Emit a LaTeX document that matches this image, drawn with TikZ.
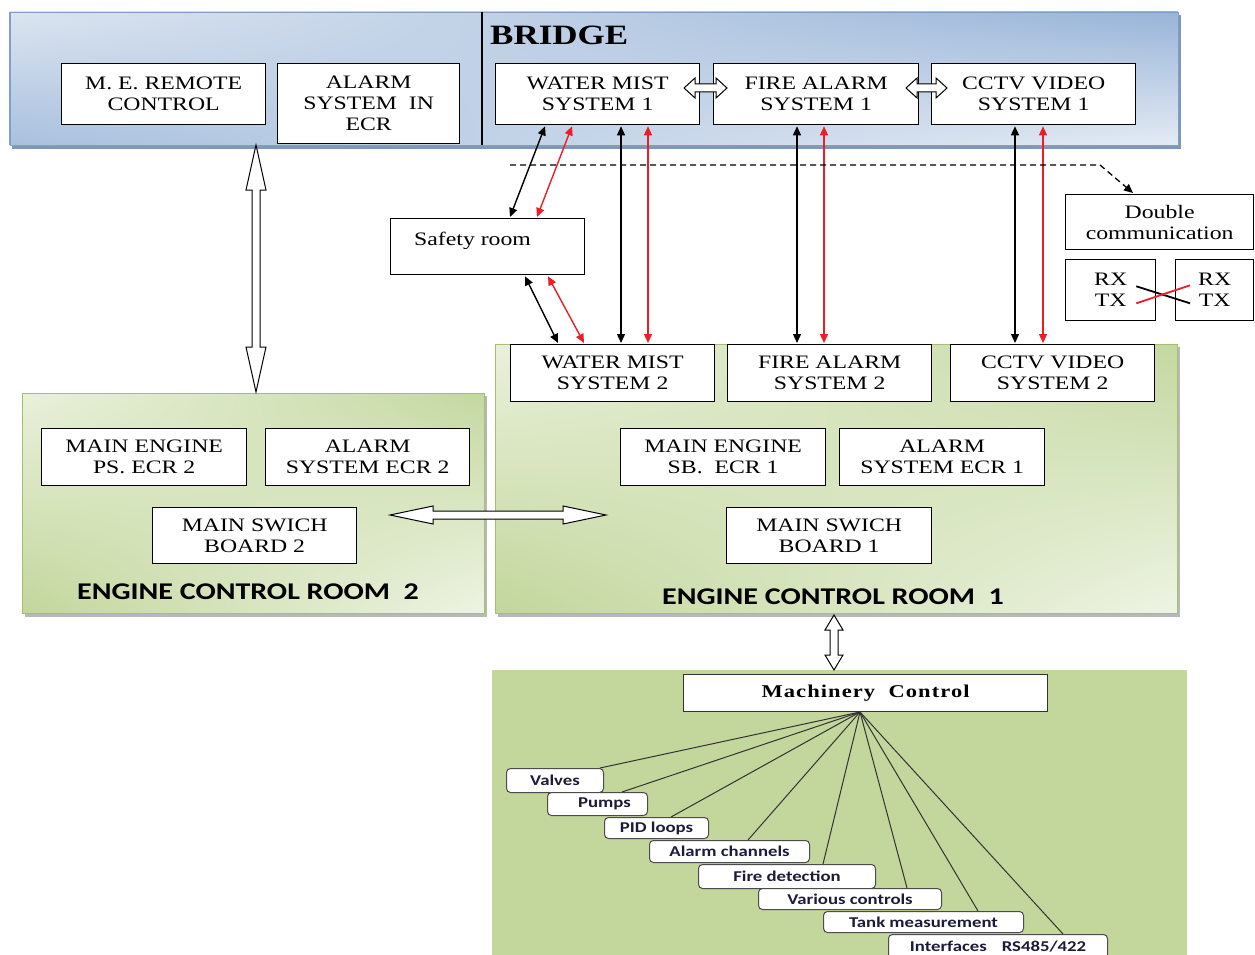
\documentclass[tikz,border=0pt]{standalone}
\usepackage{fontspec}
\setmainfont[FakeStretch=1.25]{Liberation Serif}
\newfontfamily\calfont[FakeStretch=1.25]{Carlito}
\newfontfamily\mcfont[FakeStretch=1.25,LetterSpace=6]{Liberation Serif}
\usetikzlibrary{arrows.meta,calc,shadings}
\definecolor{bUL}{HTML}{DCE5F0}
\definecolor{bUR}{HTML}{98B4D8}
\definecolor{bLL}{HTML}{A9C0DE}
\definecolor{bLR}{HTML}{E4EBF4}
\definecolor{bEdge}{HTML}{7F9FCB}
\definecolor{bShadow}{HTML}{8097BA}
\definecolor{gUL}{HTML}{EAF1DC}
\definecolor{gUR}{HTML}{C4D8A0}
\definecolor{gLL}{HTML}{C2D69B}
\definecolor{gLR}{HTML}{EEF4E4}
\definecolor{gEdge}{HTML}{A4C06C}
\definecolor{gShadow}{HTML}{B8B8B8}
\definecolor{mach}{HTML}{C3D69B}
\definecolor{arrred}{HTML}{EE1C25}
\definecolor{navytext}{HTML}{1B1B3A}
% horizontal fat double arrow: x1, x2, y, head length, head half-width, shaft half-width
\newcommand\hfatarrow[6]{%
  \draw[fatline] (#1,#3) -- (#1+#4,#3-#5) -- (#1+#4,#3-#6) -- (#2-#4,#3-#6) -- (#2-#4,#3-#5) -- (#2,#3)
    -- (#2-#4,#3+#5) -- (#2-#4,#3+#6) -- (#1+#4,#3+#6) -- (#1+#4,#3+#5) -- cycle;}
% vertical fat double arrow: y1, y2, x, head length, head half-width, shaft half-width
\newcommand\vfatarrow[6]{%
  \draw[fatline] (#3,#1) -- (#3-#5,#1+#4) -- (#3-#6,#1+#4) -- (#3-#6,#2-#4) -- (#3-#5,#2-#4) -- (#3,#2)
    -- (#3+#5,#2-#4) -- (#3+#6,#2-#4) -- (#3+#6,#1+#4) -- (#3+#5,#1+#4) -- cycle;}
\begin{document}
\begin{tikzpicture}[x=1pt,y=-1pt,
  box/.style={draw, line width=1.3pt, fill=white, anchor=north west, inner sep=0pt, align=center,
    font=\fontsize{19}{21}\selectfont},
  sbox/.style={draw=black!70, line width=1pt, rounded corners=4pt, fill=white, anchor=north west,
    inner sep=0pt, font=\calfont\bfseries\fontsize{15}{15}\selectfont, text=navytext},
  fatline/.style={draw=black, line width=1pt, fill=white, line join=miter},
  bk/.style={line width=1.4pt, {Triangle[length=9pt,width=8pt]}-{Triangle[length=9pt,width=8pt]}},
  rd/.style={bk, draw=arrred},
  hub/.style={draw=black!80, line width=1pt},
  roomlabel/.style={font=\calfont\bfseries\fontsize{24}{24}\selectfont, anchor=base}]
\useasboundingbox (0,0) rectangle (1255,955);
\fill[white] (0,0) rectangle (1255,955);

% ---------- panels ----------
\fill[bShadow] (12,15) rectangle (1181,149);
\shade[upper left=bUL, upper right=bUR, lower left=bLL, lower right=bLR] (10,12) rectangle (1178,145);
\draw[bEdge, line width=0.6pt] (10,12) rectangle (1178,145);
\draw[bEdge, line width=2pt] (10,12) -- (10,145);
\draw[line width=1.5pt] (482,12) -- (482,145);
\node[font=\bfseries\fontsize{28}{28}\selectfont, anchor=base west, inner sep=0pt] (bridge) at (490,45) {BRIDGE};

\fill[gShadow] (25,396) rectangle (487,617);
\shade[upper left=gUL, upper right=gUR, lower left=gLL, lower right=gLR] (22,393) rectangle (484,613);
\draw[gEdge, line width=0.8pt] (22,393) rectangle (484,613);

\fill[gShadow] (498,347) rectangle (1180,617);
\shade[upper left=gUL, upper right=gUR, lower left=gLL, lower right=gLR] (495,344) rectangle (1177,613);
\draw[gEdge, line width=0.8pt] (495,344) rectangle (1177,613);

\fill[mach] (492,670) rectangle (1187,960);

% ---------- bridge boxes ----------
\node[box, minimum width=204, minimum height=61] (meremote) at (61,63) {M. E. REMOTE\\CONTROL};
\node[box, minimum width=182, minimum height=80] (alarmecr) at (277,63) {ALARM\\SYSTEM\ \ IN\\ECR};
\node[box, minimum width=204, minimum height=61] (wm1) at (495,63) {WATER MIST\\SYSTEM 1};
\node[box, minimum width=205, minimum height=61] (fa1) at (713,63) {FIRE ALARM\\SYSTEM 1};
\node[box, minimum width=204, minimum height=61] (cctv1) at (931,63) {CCTV VIDEO\\SYSTEM 1};

% ---------- middle ----------
\node[box, minimum width=194, minimum height=56] (safety) at (390,218) {};
\node[font=\fontsize{19}{21}\selectfont, anchor=base west, inner sep=0pt] (safetytxt) at ($(safety.north west)+(24,27)$) {Safety room};
\node[box, minimum width=188, minimum height=55] (dcomm) at (1065,194) {Double\\communication};
\node[box, minimum width=90, minimum height=61] (rx1) at (1065,259) {RX\\TX};
\node[box, minimum width=78, minimum height=61] (rx2) at (1175,259) {RX\\TX};

% ---------- ECR 1 & 2 ----------
\node[box, minimum width=204, minimum height=57] (wm2) at (510,344) {WATER MIST\\SYSTEM 2};
\node[box, minimum width=204, minimum height=57] (fa2) at (727,344) {FIRE ALARM\\SYSTEM 2};
\node[box, minimum width=204, minimum height=57] (cctv2) at (950,344) {CCTV VIDEO\\SYSTEM 2};
\node[box, minimum width=205, minimum height=57] (me2) at (41,428) {MAIN ENGINE\\PS. ECR 2};
\node[box, minimum width=204, minimum height=57] (al2) at (265,428) {ALARM\\SYSTEM ECR 2};
\node[box, minimum width=204, minimum height=56] (msb2) at (152,507) {MAIN SWICH\\BOARD 2};
\node[box, minimum width=205, minimum height=57] (me1) at (620,428) {MAIN ENGINE\\SB.\ \ ECR 1};
\node[box, minimum width=205, minimum height=57] (al1) at (839,428) {ALARM\\SYSTEM ECR 1};
\node[box, minimum width=205, minimum height=56] (msb1) at (726,507) {MAIN SWICH\\BOARD 1};
\node[roomlabel] (ecr2lbl) at (248,599) {ENGINE CONTROL ROOM\ \ 2};
\node[roomlabel] (ecr1lbl) at (833,604) {ENGINE CONTROL ROOM\ \ 1};

% ---------- machinery ----------
\node[box, line width=1.2pt, draw=black!80, minimum width=364, minimum height=37,
  font=\mcfont\bfseries\fontsize{18}{18}\selectfont] (mc) at (683,674) {Machinery\ \ Control};
\coordinate (hubpt) at (860,712);
\node[sbox, minimum width=97, minimum height=24] (valves) at (506,768) {Valves};
\node[sbox, minimum width=100, minimum height=23] (pumps) at (547,792) {\hspace{14pt}Pumps};
\node[sbox, minimum width=104, minimum height=21] (pid) at (604,817) {PID loops};
\node[sbox, minimum width=160, minimum height=22] (alarmch) at (649,840) {Alarm channels};
\node[sbox, minimum width=177, minimum height=24] (fire) at (698,864) {Fire detection};
\node[sbox, minimum width=183, minimum height=21] (various) at (758,888) {Various controls};
\node[sbox, minimum width=200, minimum height=21] (tank) at (823,911) {Tank measurement};
\node[sbox, minimum width=219, minimum height=24] (interf) at (888,934) {Interfaces\quad RS485/422};
\draw[hub] (hubpt) -- (600,0 |- valves.north);
\draw[hub] (hubpt) -- (622,0 |- pumps.north);
\draw[hub] (hubpt) -- (671,0 |- pid.north);
\draw[hub] (hubpt) -- (748,0 |- alarmch.north);
\draw[hub] (hubpt) -- (823,0 |- fire.north);
\draw[hub] (hubpt) -- (907,0 |- various.north);
\draw[hub] (hubpt) -- (978,0 |- tank.north);
\draw[hub] (hubpt) -- (1063,0 |- interf.north);

% ---------- fat hollow arrows ----------
\vfatarrow{145}{392}{256}{45}{10}{4}
\hfatarrow{390}{606}{515}{43}{9}{4}
\vfatarrow{615}{670}{834}{15}{9}{4}
\hfatarrow{684}{727}{88}{11}{10}{4}
\hfatarrow{906}{947}{88}{11}{10}{4}

% ---------- thin arrows ----------
\draw[bk] ($(wm1.south west)+(50,1)$) -- ($(safety.north west)+(120,-1)$);
\draw[rd] ($(wm1.south west)+(77,1)$) -- ($(safety.north west)+(147,-1)$);
\draw[bk] ($(wm1.south west)+(126,1)$) -- ($(wm2.north west)+(111,-1)$);
\draw[rd] ($(wm1.south west)+(153,1)$) -- ($(wm2.north west)+(138,-1)$);
\draw[bk] ($(safety.south west)+(135,1)$) -- ($(wm2.north west)+(48,-1)$);
\draw[rd] ($(safety.south west)+(158,1)$) -- ($(wm2.north west)+(74,-1)$);
\draw[bk] ($(fa1.south west)+(84,1)$) -- ($(fa2.north west)+(70,-1)$);
\draw[rd] ($(fa1.south west)+(111,1)$) -- ($(fa2.north west)+(97,-1)$);
\draw[bk] ($(cctv1.south west)+(84,1)$) -- ($(cctv2.north west)+(65,-1)$);
\draw[rd] ($(cctv1.south west)+(112,1)$) -- ($(cctv2.north west)+(93,-1)$);

% dashed link to double communication
\coordinate (dstart) at (510,165);
\coordinate (dbend) at (1100,165);
\draw[line width=1.3pt, dash pattern=on 6pt off 4pt, -{Triangle[length=9pt,width=8pt]}]
  (dstart) -- (dbend) -- ($(dcomm.north west)+(68,-1)$);

% RX/TX cross
\draw[line width=1.8pt] ($(rx1.south east)+(-20,-35)$) -- ($(rx2.south west)+(15,-18)$);
\draw[arrred, line width=1.8pt] ($(rx1.south east)+(-20,-18)$) -- ($(rx2.south west)+(15,-36)$);
\end{tikzpicture}
\end{document}
